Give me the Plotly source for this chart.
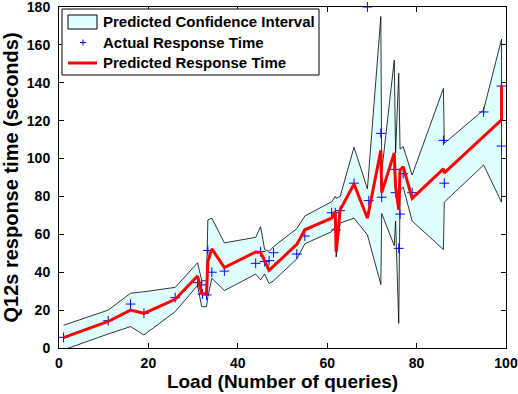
import plotly.graph_objects as go

# Load levels (number of concurrent queries) and Q12s response times in seconds
load = [1, 11, 16, 19, 26, 31, 31.9, 32.1, 33.0, 33.3, 34.2, 37, 44, 45.1, 46, 47, 48,
        53.2, 55, 61, 61.8, 62, 62.9, 66, 69, 69.3, 72, 72.2, 75, 75.3, 76.0, 76.3, 77,
        79, 86, 86.2, 95, 99, 99]
actual = [5.6, 14.4, 23.2, 18.3, 26.6, 34.5, 33.3, 28.5, 28, 51.5, 40, 40.6, 44.7, 50.9,
          45.6, 46.1, 50.3, 49.6, 59.1, 71.4, 71.4, 62.3, 72.5, 87, 180, 77.8, 113.3, 79.6,
          94.3, 82, 52.6, 70.7, 92, 82, 109.6, 87, 124.6, 106.6, 138.3]
predicted = [5.5, 14, 20, 18.3, 25.7, 38, 29, 28.8, 28.5, 45.6, 52.3, 42.5, 50.7, 50.5,
             46, 41, 43.2, 54.7, 62.4, 68.6, 72, 50.8, 72.9, 86.6, 68.5, 72, 104.3, 82,
             103, 85, 73, 94, 95.7, 79, 94.6, 92.4, 111.5, 120.4, 138.6]
ci_lower = [-1, 7.4, 11.3, 6.9, 19.2, 33, 22, 21.8, 21.8, 27, 36.8, 30.3, 39, 36, 39, 34,
            35.5, 47, 55, 61.4, 64, 48, 66, 68.5, 59.7, 57, 33.5, 71, 54, 67, 13, 83, 85,
            67, 52, 77, 96.6, 77, 120]
ci_upper = [12, 20, 28.9, 29.7, 32, 45, 36, 35.5, 35.5, 67.6, 68.5, 55.5, 58.4, 64, 52, 51,
            53.5, 63, 69.7, 77.2, 80, 79, 80, 106, 84, 93, 175, 93, 152, 103, 145, 105,
            106.3, 91.3, 137, 108, 125.7, 163, 158]

x_ticks = [0, 20, 40, 60, 80, 100]
y_ticks = [0, 20, 40, 60, 80, 100, 120, 140, 160, 180]

legend_labels = ["Predicted Confidence Interval", "Actual Response Time",
                 "Predicted Response Time"]

W, H = 518, 394
ML, MR, MT, MB = 59, 12, 7, 46
FONT = "Liberation Sans"


def paper_x(px):
    return (px - ML) / (W - ML - MR)


def paper_y(py):
    return (H - MB - py) / (H - MT - MB)


fig = go.Figure()

# confidence band as one closed polygon (upper edge, then lower edge reversed)
fig.add_trace(go.Scatter(
    x=load + load[::-1], y=ci_upper + ci_lower[::-1],
    mode="lines", fill="toself", fillcolor="#e0ffff",
    line=dict(color="black", width=0.8), showlegend=False, hoverinfo="skip"))

fig.add_trace(go.Scatter(
    x=load, y=actual, mode="markers", cliponaxis=False, showlegend=False,
    marker=dict(symbol="cross-thin", size=7, color="blue",
                line=dict(color="blue", width=1))))

fig.add_trace(go.Scatter(
    x=load, y=predicted, mode="lines", showlegend=False,
    line=dict(color="red", width=3)))

# legend drawn in pixel positions
shapes = [
    dict(type="rect", xref="paper", yref="paper",
         x0=paper_x(62), x1=paper_x(319), y0=paper_y(75), y1=paper_y(9),
         line=dict(color="black", width=1), fillcolor="white", layer="above"),
    dict(type="rect", xref="paper", yref="paper",
         x0=paper_x(68), x1=paper_x(97), y0=paper_y(29), y1=paper_y(15),
         line=dict(color="black", width=1), fillcolor="#e0ffff", layer="above"),
    dict(type="line", xref="paper", yref="paper",
         x0=paper_x(80), x1=paper_x(86), y0=paper_y(42.5), y1=paper_y(42.5),
         line=dict(color="blue", width=1), layer="above"),
    dict(type="line", xref="paper", yref="paper",
         x0=paper_x(83), x1=paper_x(83), y0=paper_y(39.5), y1=paper_y(45.5),
         line=dict(color="blue", width=1), layer="above"),
    dict(type="line", xref="paper", yref="paper",
         x0=paper_x(68), x1=paper_x(97), y0=paper_y(63), y1=paper_y(63),
         line=dict(color="red", width=3), layer="above"),
]
annotations = []
for label, py in zip(legend_labels, [22, 42.5, 63]):
    annotations.append(dict(
        xref="paper", yref="paper", x=paper_x(100.5), y=paper_y(py),
        text=label, showarrow=False, xanchor="left", yanchor="middle",
        font=dict(family=FONT, size=15, color="black", weight="bold")))

axis_common = dict(
    showgrid=False, zeroline=False, showline=True, linecolor="black", linewidth=1,
    mirror="ticks", ticks="inside", ticklen=5, tickcolor="black", tickwidth=1,
    ticklabeloverflow="allow",
    tickfont=dict(family=FONT, size=14, color="black", weight="bold"))

fig.update_layout(
    width=W, height=H, margin=dict(l=ML, r=MR, t=MT, b=MB, autoexpand=False),
    paper_bgcolor="white", plot_bgcolor="white",
    xaxis=dict(range=[0, 100], tickvals=x_ticks, ticklabelstandoff=2,
               title=dict(text="Load (Number of queries)", standoff=4,
                          font=dict(family=FONT, size=19, color="black", weight="bold")),
               **axis_common),
    yaxis=dict(range=[0, 180], tickvals=y_ticks, ticklabelstandoff=5,
               title=dict(text="Q12s response time (seconds)", standoff=6,
                          font=dict(family=FONT, size=20, color="black", weight="bold")),
               **axis_common),
    shapes=shapes, annotations=annotations, showlegend=False)

fig.write_html("out.html")
